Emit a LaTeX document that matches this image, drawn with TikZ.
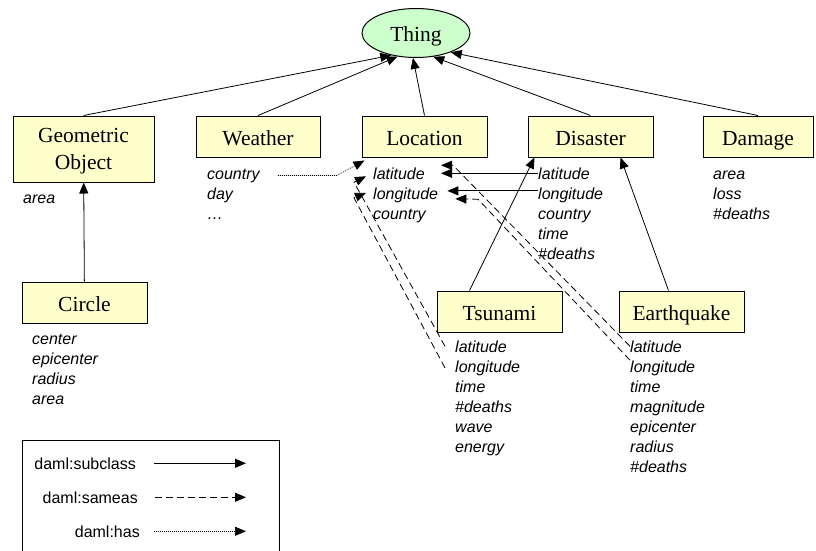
\documentclass[tikz,border=0pt]{standalone}
\usepackage{fontspec}
\setmainfont{Liberation Serif}
\setsansfont{Liberation Sans}
\usetikzlibrary{arrows.meta, shapes.geometric}
\definecolor{classfill}{RGB}{255,255,204}
\definecolor{thingfill}{RGB}{204,255,204}

\begin{document}
\begin{tikzpicture}[x=1pt, y=-1pt,
    cls/.style={draw, fill=classfill, line width=1pt, minimum height=41pt, minimum width=125pt, inner sep=0pt, align=center, font=\fontsize{21.5}{27}\selectfont},
    oneline/.style={text height=19pt, text depth=2pt},
    attr/.style={anchor=base west, inner sep=0pt, font=\sffamily\itshape\fontsize{16}{20}\selectfont},
    legend/.style={anchor=base east, inner sep=0pt, font=\sffamily\fontsize{16}{20}\selectfont},
    sub/.style={-{Triangle[length=11pt, width=9pt]}, line width=0.8pt},
    same/.style={sub, dash pattern=on 7pt off 4pt},
    has/.style={sub, line width=0.6pt, dash pattern=on 1pt off 1pt}]
    \useasboundingbox (0,0) rectangle (816,550);

    % Root of the hierarchy
    \node[ellipse, draw, fill=thingfill, line width=1pt, minimum width=108pt, minimum height=49pt, inner sep=0pt, oneline, font=\fontsize{21.5}{27}\selectfont] (thing) at (416,33) {Thing};

    % Classes
    \node[cls, minimum width=141pt, minimum height=66pt, text height=44pt, text depth=4pt] (geo) at (83.5,149) {Geometric\\Object};
    \node[cls, oneline, minimum width=124pt] (weather) at (258,136.5) {Weather};
    \node[cls, oneline] (loc) at (424.5,136.5) {Location};
    \node[cls, oneline] (dis) at (590.5,136.5) {Disaster};
    \node[cls, oneline, minimum width=110pt] (dam) at (758,136.5) {Damage};
    \node[cls, oneline] (circ) at (84.5,302.5) {Circle};
    \node[cls, oneline] (tsu) at (499.5,311.5) {Tsunami};
    \node[cls, oneline] (eq) at (681.5,311.5) {Earthquake};

    % Properties of each class
    \node[attr] (gArea) at (23,203) {area};

    \node[attr] (wCountry) at (207,179) {country};
    \node[attr] (wDay) at (207,199) {day};
    \node[attr] (wMore) at (207,219) {…};

    \node[attr] (lLat) at (373,179) {latitude};
    \node[attr] (lLon) at (373,199) {longitude};
    \node[attr] (lCountry) at (373,219) {country};

    \node[attr] (dLat) at (538,179) {latitude};
    \node[attr] (dLon) at (538,199) {longitude};
    \node[attr] (dCountry) at (538,219) {country};
    \node[attr] (dTime) at (538,239) {time};
    \node[attr] (dDeaths) at (538,259) {\#deaths};

    \node[attr] (mArea) at (713,179) {area};
    \node[attr] (mLoss) at (713,199) {loss};
    \node[attr] (mDeaths) at (713,219) {\#deaths};

    \node[attr] (cCenter) at (32,344) {center};
    \node[attr] (cEpi) at (32,364) {epicenter};
    \node[attr] (cRadius) at (32,384) {radius};
    \node[attr] (cArea) at (32,404) {area};

    \node[attr] (tLat) at (455,352) {latitude};
    \node[attr] (tLon) at (455,372) {longitude};
    \node[attr] (tTime) at (455,392) {time};
    \node[attr] (tDeaths) at (455,412) {\#deaths};
    \node[attr] (tWave) at (455,432) {wave};
    \node[attr] (tEnergy) at (455,452) {energy};

    \node[attr] (eLat) at (630,352) {latitude};
    \node[attr] (eLon) at (630,372) {longitude};
    \node[attr] (eTime) at (630,392) {time};
    \node[attr] (eMag) at (630,412) {magnitude};
    \node[attr] (eEpi) at (630,432) {epicenter};
    \node[attr] (eRadius) at (630,452) {radius};
    \node[attr] (eDeaths) at (630,472) {\#deaths};

    % Subclass links
    \draw[sub] (geo.north) -- (thing.222);
    \draw[sub] (weather.north) -- (thing.232);
    \draw[sub] (loc.north) -- (thing.263);
    \draw[sub] (dis.north) -- (thing.306);
    \draw[sub] (dam.north) -- (thing.331);
    \draw[sub] (circ) -- (geo);
    \draw[sub] ([xshift=-30pt]tsu.north) -- ([xshift=-56pt]dis.south);
    \draw[sub] ([xshift=-13pt]eq.north) -- ([xshift=30pt]dis.south);

    % Links between properties
    \draw[sub] (dLat.west) -- ([xshift=16pt]lLat.east);
    \draw[sub] ([yshift=4pt]dLon.west) -- ([xshift=9pt,yshift=4pt]lLon.east);
    \draw[same] (eLat.west) -- ++(-177,-181) -- ([xshift=16pt,yshift=8pt]lLat.east);
    \draw[same] (eLon.north west) -- ++(-152,-161) -- ([xshift=17pt,yshift=-4pt]lLon.east);
    \draw[same] ([xshift=-10pt]tLat.west) -- ++(-91,-164) -- ([xshift=-7pt,yshift=-3pt]lLat.west);
    \draw[same] ([xshift=-10pt]tLon.west) -- ++(-91,-170) -- ([xshift=-7pt,yshift=2pt]lLon.west);
    \draw[has] ([xshift=18pt]wCountry.east) -- ++(59,0) -- ([xshift=3pt,yshift=-3pt]loc.south west);

    % Legend
    \draw[line width=1pt] (22,440) rectangle (279,552);
    \node[legend] (lgSub) at (136,469) {daml:subclass};
    \node[legend] (lgSame) at (138,503) {daml:sameas};
    \node[legend] (lgHas) at (140,537) {daml:has};
    \draw[sub] ([xshift=18pt]lgSub.east) -- ++(92,0);
    \draw[same] ([xshift=17pt]lgSame.east) -- ++(91,0);
    \draw[has] ([xshift=14pt]lgHas.east) -- ++(92,0);
\end{tikzpicture}
\end{document}
